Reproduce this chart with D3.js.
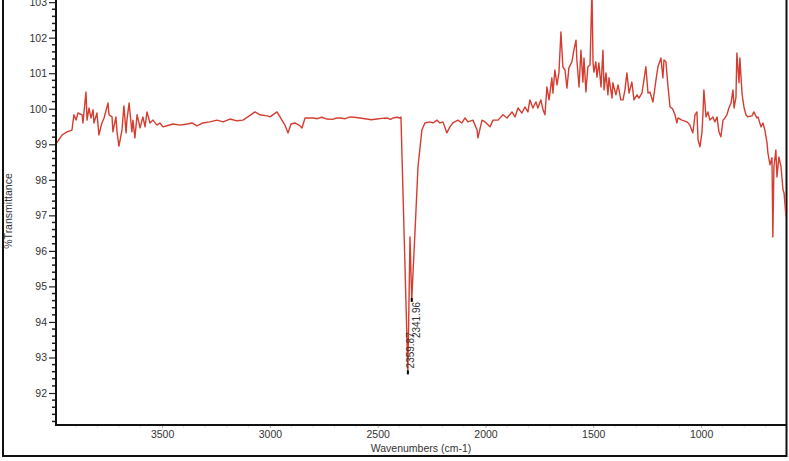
<!DOCTYPE html>
<html><head><meta charset="utf-8">
<script src="https://cdn.jsdelivr.net/npm/d3@7/dist/d3.min.js"></script>
<style>
html,body{margin:0;padding:0;background:#fff;}
svg{display:block;}
text{font-family:"Liberation Sans",Arial,sans-serif;fill:#333;}
</style></head>
<body>
<script>
// ---- data ----
const wavenumbers = [3992,3964,3941,3918,3909,3899,3890,3871,3867,3853,3848,3839,3830,3820,3816,3802,3793,3779,3769,3751,3746,3732,3728,3714,3709,3700,3686,3677,3667,3663,3653,3640,3635,3626,3616,3602,3589,3579,3570,3556,3542,3524,3510,3496,3477,3449,3417,3384,3361,3338,3310,3278,3245,3217,3185,3153,3125,3102,3069,3046,3013,2999,2967,2944,2930,2916,2902,2884,2865,2851,2837,2800,2780,2760,2735,2710,2690,2675,2650,2628,2610,2582,2560,2550,2530,2503,2480,2457,2440,2429,2410,2397,2392,2360,2350,2342,2327,2313,2295,2281,2257,2243,2225,2211,2197,2179,2165,2151,2128,2109,2095,2081,2058,2039,2035,2016,2002,1979,1965,1942,1919,1900,1877,1863,1849,1831,1817,1803,1794,1780,1766,1757,1743,1733,1724,1715,1705,1692,1687,1678,1668,1659,1650,1641,1631,1622,1613,1599,1590,1580,1576,1566,1557,1548,1543,1534,1525,1515,1506,1501,1497,1488,1483,1474,1464,1455,1450,1441,1432,1427,1413,1409,1395,1385,1372,1362,1353,1344,1334,1321,1311,1297,1288,1274,1265,1256,1246,1237,1223,1209,1200,1186,1177,1172,1163,1154,1144,1135,1130,1121,1112,1107,1089,1065,1052,1038,1028,1019,1014,1005,996,991,987,977,968,959,945,936,926,917,908,898,889,880,871,861,852,847,838,834,824,820,810,806,801,792,783,764,755,741,736,722,713,704,694,690,680,671,667,662,653,648,639,629,620,615,606];
const transmittance = [99.01,99.26,99.35,99.40,99.83,99.68,99.88,99.83,99.60,100.47,99.68,100.02,99.74,99.97,99.60,99.88,99.26,99.60,99.74,100.16,99.83,99.77,99.35,99.77,99.35,98.95,99.40,100.08,99.32,99.68,100.16,99.35,99.68,99.18,99.83,99.46,99.77,99.49,99.91,99.60,99.68,99.54,99.60,99.49,99.52,99.57,99.54,99.57,99.60,99.52,99.60,99.63,99.68,99.63,99.71,99.66,99.68,99.77,99.91,99.83,99.80,99.77,99.91,99.68,99.54,99.32,99.57,99.60,99.54,99.46,99.74,99.74,99.72,99.76,99.71,99.70,99.74,99.74,99.72,99.77,99.76,99.74,99.72,99.71,99.69,99.71,99.73,99.74,99.70,99.74,99.76,99.74,99.77,92.58,96.39,94.62,96.51,98.36,99.40,99.60,99.63,99.60,99.68,99.60,99.63,99.32,99.49,99.60,99.68,99.60,99.74,99.63,99.68,99.40,99.18,99.68,99.63,99.49,99.68,99.68,99.83,99.74,99.91,99.77,100.02,99.88,100.05,99.91,100.25,100.02,100.19,100.02,100.25,99.97,99.83,100.61,100.25,100.87,100.44,101.09,100.67,101.03,102.16,101.18,101.09,100.58,101.15,101.32,101.65,101.93,101.37,100.61,101.65,100.75,101.43,100.47,101.18,101.23,103.34,101.29,101.03,101.32,100.89,101.29,100.61,101.65,100.53,101.01,100.39,100.87,100.30,100.73,100.39,100.67,100.25,100.25,100.53,101.01,100.44,100.75,100.25,100.39,100.30,100.44,100.81,101.18,100.44,100.47,100.19,100.81,101.18,101.43,100.87,101.37,101.32,100.67,100.05,100.02,99.97,99.83,99.60,99.74,99.68,99.63,99.54,99.32,99.83,99.91,99.12,98.93,99.32,99.88,100.53,99.77,99.91,99.68,99.77,99.63,99.77,99.35,99.21,99.68,99.74,99.83,100.02,100.16,100.53,100.02,100.33,101.57,100.73,101.43,100.44,100.25,100.05,99.83,99.77,99.80,99.91,99.74,99.77,99.49,99.60,99.40,99.04,98.76,98.42,98.62,96.39,98.36,98.84,98.08,98.64,98.36,97.72,97.63,96.96];
const xTicks = [3500,3000,2500,2000,1500,1000];
const yTicks = [92,93,94,95,96,97,98,99,100,101,102,103];
const peakWavenumbers = [2359.87, 2341.96];
const peakTransmittance = [92.58, 94.62];
const peakLabels = ["2359.87","2341.96"];
const xTitle = "Wavenumbers (cm-1)";
const yTitle = "%Transmittance";

if (wavenumbers.length !== transmittance.length) {
  throw new Error("length mismatch " + wavenumbers.length + " vs " + transmittance.length);
}

// ---- drawing ----
const W = 789, H = 461;
const mLeft = 56, mRight = 786, mTop = 0, mBottom = 425;
const svg = d3.select("body").append("svg").attr("width", W).attr("height", H);

const x = d3.scaleLinear().domain([3992, 606]).range([mLeft, mRight]);
const y = d3.scaleLinear().domain([91.1, 103.06]).range([mBottom, mTop]);

// outer frame
svg.append("path")
  .attr("d", `M3,-2 L3,456 L786.5,456 L786.5,-2`)
  .attr("fill", "none").attr("stroke", "#111").attr("stroke-width", 2);

svg.append("defs").append("clipPath").attr("id", "clip")
  .append("rect").attr("x", mLeft).attr("y", mTop).attr("width", mRight - mLeft).attr("height", mBottom - mTop);

const data = wavenumbers.map((w, i) => [w, transmittance[i]]);
svg.append("path")
  .datum(data)
  .attr("clip-path", "url(#clip)")
  .attr("fill", "none")
  .attr("stroke", "#d43d30")
  .attr("stroke-width", 1.4)
  .attr("stroke-linejoin", "round")
  .attr("d", d3.line().x(d => x(d[0])).y(d => y(d[1])));

// y axis: minor ticks
const minor = d3.range(91.2, 103.01, 0.2).filter(v => Math.abs(v - Math.round(v)) > 0.05);
const yAxis = svg.append("g").attr("transform", `translate(${mLeft},0)`)
  .call(d3.axisLeft(y).tickValues(yTicks).tickFormat(d3.format("d")).tickSize(7).tickPadding(2));
yAxis.select(".domain").remove();
yAxis.selectAll(".tick line").attr("stroke", "#222").attr("stroke-width", 1.2);
yAxis.selectAll(".tick text").attr("font-size", "10.5px").attr("fill", "#333")
  .style("font-family", "'Liberation Sans', Arial, sans-serif");
svg.append("g").selectAll("line").data(minor).join("line")
  .attr("x1", mLeft - 4).attr("x2", mLeft).attr("y1", d => y(d)).attr("y2", d => y(d))
  .attr("stroke", "#222").attr("stroke-width", 1.5);

// x axis
const xAxis = svg.append("g").attr("transform", `translate(0,${mBottom})`)
  .call(d3.axisBottom(x).tickValues(xTicks).tickFormat(d3.format("d")).tickSize(3).tickPadding(3));
xAxis.select(".domain").remove();
xAxis.selectAll(".tick line").attr("stroke", "#aaa");
xAxis.selectAll(".tick text").attr("font-size", "10.5px").attr("fill", "#333")
  .style("font-family", "'Liberation Sans', Arial, sans-serif");
svg.append("g").selectAll("line").data(d3.range(3900, 600, -100).filter(v => v % 500 !== 0)).join("line")
  .attr("x1", d => x(d)).attr("x2", d => x(d)).attr("y1", mBottom + 1).attr("y2", mBottom + 3)
  .attr("stroke", "#e2e2e2").attr("stroke-width", 1);

// axis lines
svg.append("line").attr("x1", mLeft).attr("x2", mLeft).attr("y1", -2).attr("y2", mBottom + 1)
  .attr("stroke", "#111").attr("stroke-width", 2);
svg.append("line").attr("x1", mLeft - 1).attr("x2", mRight).attr("y1", mBottom).attr("y2", mBottom)
  .attr("stroke", "#111").attr("stroke-width", 2);

// titles
svg.append("text").attr("x", 421).attr("y", 452).attr("text-anchor", "middle")
  .attr("font-size", "10.5px").text(xTitle);
svg.append("text").attr("transform", "translate(12,211) rotate(-90)").attr("text-anchor", "middle")
  .attr("font-size", "10.5px").text(yTitle);

// peak markers and labels
peakWavenumbers.forEach((w, i) => {
  const px = x(w), py = y(peakTransmittance[i]);
  svg.append("line").attr("x1", px).attr("x2", px).attr("y1", py - 2).attr("y2", py + 2)
    .attr("stroke", "#000").attr("stroke-width", 2);
  const t = svg.append("text").attr("font-size", "10px").attr("fill", "#222")
    .attr("dominant-baseline", "central").text(peakLabels[i]);
  if (i === 0) {
    t.attr("text-anchor", "start").attr("transform", `translate(${px + 3},${py - 4}) rotate(-90)`);
  } else {
    t.attr("text-anchor", "end").attr("transform", `translate(${px + 4.5},${py + 2}) rotate(-90)`);
  }
});
</script>
</body></html>
